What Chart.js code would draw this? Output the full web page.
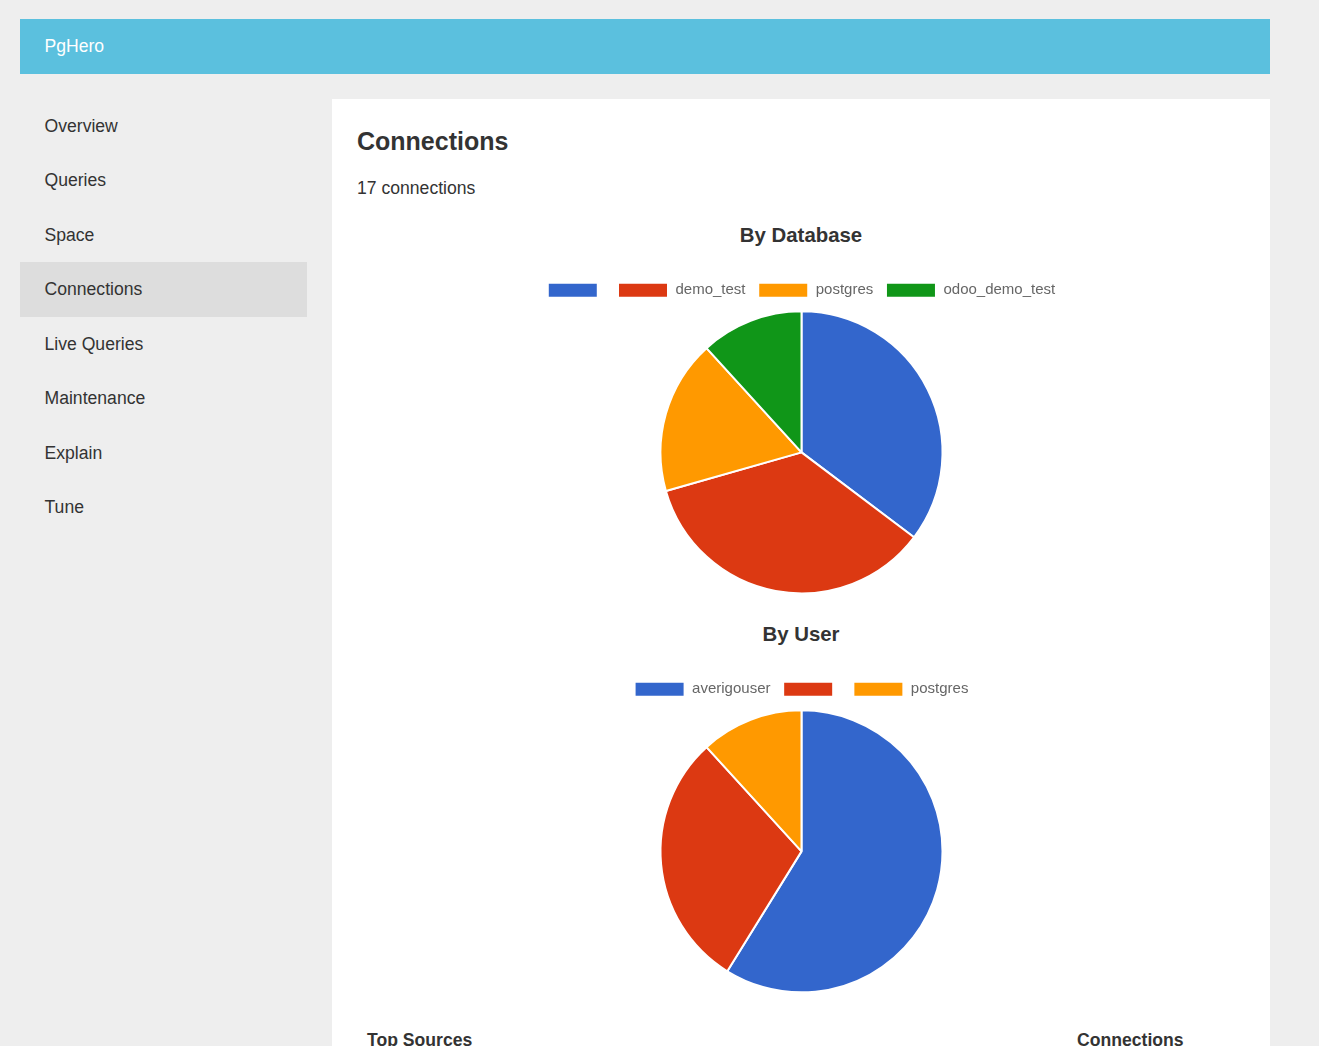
<!DOCTYPE html>
<html><head><meta charset="UTF-8">
<title>PgHero</title>
<script src="https://cdn.jsdelivr.net/npm/chart.js"></script>
<style>
html,body{margin:0;height:100%;overflow:hidden}
body{background:#eee;color:#333;font:17.6px "Liberation Sans",Arial,sans-serif}
.abs{position:absolute;white-space:nowrap}
#header{left:20px;top:19px;width:1250px;height:55px;background:#5bc0de;color:#fff;line-height:55px;text-indent:24.5px}
#nav a{position:absolute;left:20px;width:287px;height:54.5px;line-height:54.5px;text-indent:24.5px}
#nav a.active{background:#ddd}
#panel{left:332px;top:99px;width:938px;height:947px;background:#fff}
h1,h3{margin:0;font-weight:bold}
h1{font-size:25px;left:357px;top:127px}
h3{font-size:20.4px;width:888px;left:357px;text-align:center}
.wrap{position:absolute;left:357px;width:889px;height:330px}
.th{font-weight:bold;top:1030px}
</style>
</head><body>
<div id="header" class="abs">PgHero</div>
<div id="nav"></div>
<div id="panel" class="abs"></div>
<h1 class="abs">Connections</h1>
<div class="abs" style="left:357px;top:178px">17 connections</div>
<h3 class="abs" style="top:224px">By Database</h3>
<div class="wrap" style="top:270px"><canvas id="byDatabase"></canvas></div>
<h3 class="abs" style="top:623px">By User</h3>
<div class="wrap" style="top:669px"><canvas id="byUser"></canvas></div>
<div class="abs th" style="left:367px">Top Sources</div>
<div class="abs th" style="left:1077px">Connections</div>
<script>
const navItems = ['Overview', 'Queries', 'Space', 'Connections', 'Live Queries', 'Maintenance', 'Explain', 'Tune'];
const activeNav = 'Connections';

const dbLabels = ['', 'demo_test', 'postgres', 'odoo_demo_test'];
const dbValues = [6, 6, 3, 2];
const userLabels = ['averigouser', '', 'postgres'];
const userValues = [10, 5, 2];
const colors = ['#3366CC', '#DC3912', '#FF9900', '#109618'];

const nav = document.getElementById('nav');
navItems.forEach((name, i) => {
  const a = document.createElement('a');
  a.textContent = name;
  a.style.top = (98.75 + i * 54.5) + 'px';
  if (name === activeNav) a.className = 'active';
  nav.appendChild(a);
});

function pie(id, labels, values) {
  new Chart(document.getElementById(id), {
    type: 'pie',
    data: { labels, datasets: [{ data: values, backgroundColor: colors.slice(0, values.length), borderColor: '#fff', borderWidth: 2, radius: 141 }] },
    options: {
      responsive: true,
      maintainAspectRatio: false,
      animation: false,
      layout: { padding: { bottom: 3 } },
      plugins: {
        tooltip: { enabled: false },
        legend: {
          position: 'top',
          labels: { boxWidth: 50, boxHeight: 15, padding: 12.7, color: '#666', font: { size: 15, family: '"Liberation Sans", Arial, sans-serif' } }
        }
      }
    }
  });
}
pie('byDatabase', dbLabels, dbValues);
pie('byUser', userLabels, userValues);
</script>
</body></html>
